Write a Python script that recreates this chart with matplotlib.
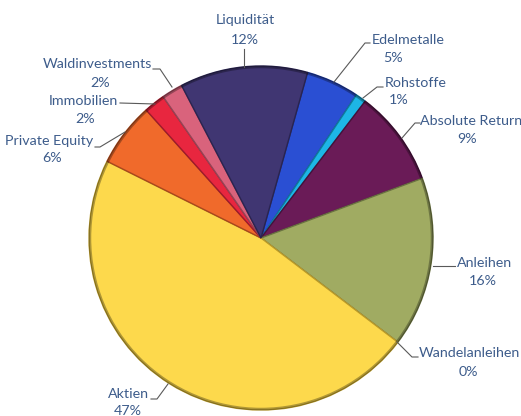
import matplotlib
matplotlib.use("Agg")
import matplotlib.pyplot as plt
from matplotlib.patches import Circle

labels = ["Edelmetalle", "Rohstoffe", "Absolute Return", "Anleihen", "Wandelanleihen",
          "Aktien", "Private Equity", "Immobilien", "Waldinvestments", "Liquidität"]
shares = [5, 1, 9, 16, 0, 47, 6, 2, 2, 12]
colors = ["#2A4FD3", "#1DB6E6", "#6A1B57", "#A0AB62", "#C8C070",
          "#FDD94C", "#F06A2B", "#E8263F", "#D9637C", "#403672"]
edges = ["#1C358F", "#107A9C", "#45113A", "#6B7341", "#888040",
         "#B89A2A", "#A8481C", "#9E1A2B", "#954456", "#2A2450"]

# label text position (pixels, top-left origin) and leader polyline
label_pos = [(372, 40, "left"), (385, 83, "left"), (420, 121, "left"), (457, 263, "left"),
             (419, 353, "left"), (108, 394, "left"), (93, 141, "right"), (118, 101, "right"),
             (152, 64, "right"), (245, 20, "center")]
pct_pos = [(393, 58), (399, 100), (467, 139), (483, 281), (468, 372),
           (128, 411), (52, 158), (85, 119), (100, 83), (245, 40)]
leaders = [
    [(370, 43), (365, 43), (334, 82)],
    [(383, 87), (377, 87), (363, 98)],
    [(420, 123), (415, 123), (402, 138)],
    [(455, 266), (433, 266)],
    [(418, 357), (412, 357), (397, 342)],
    [(151, 399), (157, 399), (168, 384)],
    [(95, 147), (100, 147), (125, 132)],
    [(120, 103), (155, 104)],
    [(153, 69), (160, 69), (172, 87)],
    [(244, 49), (244, 67)],
]

W, H = 521, 416
cx, cy, r = 261, H - 238, 172
fig = plt.figure(figsize=(W / 100, H / 100), dpi=100)
ax = fig.add_axes([0, 0, 1, 1])

ax.pie(shares, colors=colors, startangle=74.3, counterclock=False,
       center=(cx, cy), radius=r,
       wedgeprops=dict(linewidth=1.0))
for w, ec in zip(ax.patches, edges):
    w.set_edgecolor(ec)
# dark rim for the bevelled look
ax.add_patch(Circle((cx, cy), r - 1, fill=False, ec=(0, 0, 0, 0.3), lw=1.8))

txt_color = "#3D5C8B"
for lab, (x, y, ha), pts in zip(labels, label_pos, leaders):
    ax.text(x, H - y, lab, ha=ha, va="center", fontsize=10.3, color=txt_color, family="Lato")
    ax.plot([p[0] for p in pts], [H - p[1] for p in pts], color="#595959", lw=0.8)

for v, (x, y) in zip(shares, pct_pos):
    ax.text(x, H - y, f"{v}%", ha="center", va="center", fontsize=10.3,
            color=txt_color, family="Lato")

ax.set_xlim(0, W)
ax.set_ylim(0, H)
ax.set_aspect("equal")
ax.axis("off")
fig.savefig("out.png", dpi=100)
